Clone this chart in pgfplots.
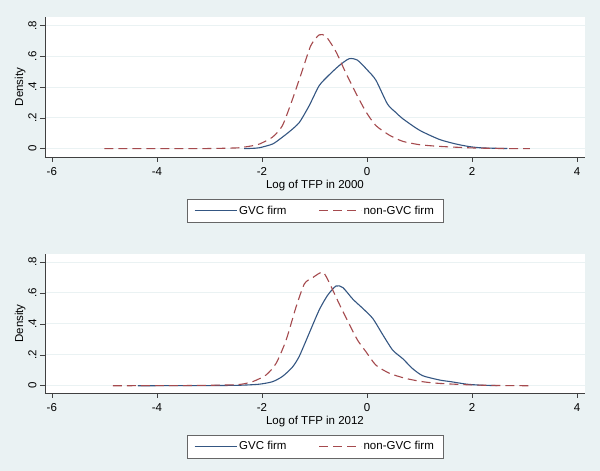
\documentclass[border=0pt]{standalone}
\usepackage{fontspec}
\setmainfont{Liberation Sans}
\usepackage{pgfplots}
\pgfplotsset{compat=1.18}

\definecolor{bgcol}{RGB}{234,242,243}
\definecolor{gvc}{RGB}{52,86,130}
\definecolor{ngvc}{RGB}{165,74,78}

\newcommand{\lblfont}{\fontsize{11.5}{13}\selectfont}

\pgfplotsset{
  tfp/.style={
    scale only axis, width=540pt,
    xmin=-6.13, xmax=4.15,
    axis x line*=bottom, axis y line*=left,
    axis line style={black!75, line width=0.6pt},
    axis background/.style={fill=white},
    tick align=outside, major tick length=5pt,
    major tick style={black!75, line width=0.6pt},
    xtick={-6,-4,-2,0,2,4},
    ytick={0,0.2,0.4,0.6,0.8},
    yticklabels={0,.2,.4,.6,.8},
    yticklabel style={rotate=90, anchor=south},
    xticklabel style={yshift=-2pt},
    ymajorgrids, grid style={bgcol, line width=1pt},
    ylabel={Density},
    ylabel style={at={(axis description cs:-0.046,0.5)}, anchor=center},
    xlabel style={at={(axis description cs:0.5,-0.207)}, anchor=center},
    tick label style={font=\lblfont},
    label style={font=\lblfont},
    /pgf/number format/assume math mode=true,
    legend style={at={(axis description cs:0.5,-0.30)}, anchor=north,
      legend columns=2, draw=black!60, fill=white, font=\lblfont,
      inner xsep=7pt, inner ysep=4.5pt,
      /tikz/every even column/.append style={column sep=30pt}},
    legend image code/.code={\draw[#1] (0pt,0pt) -- (42pt,0pt);},
  },
  gvcline/.style={gvc, line width=1.1pt, smooth, tension=0.4},
  ngvcline/.style={ngvc, line width=1.1pt, dash pattern=on 9pt off 5pt, smooth, tension=0.4},
}

\begin{document}
\begin{tikzpicture}
\fill[bgcol] (0,0) rectangle (600pt,471pt);

% 2000
\begin{axis}[tfp, height=140pt, ymin=-0.054, ymax=0.856,
  at={(45pt,314pt)}, anchor=south west,
  xlabel={Log of TFP in 2000}]
\addplot[gvcline] coordinates {
 (-2.34,0) (-2.2,0.002) (-2.05,0.006) (-1.80,0.03) (-1.65,0.065) (-1.48,0.11)
 (-1.29,0.17) (-1.10,0.28) (-0.91,0.41) (-0.72,0.48) (-0.53,0.54) (-0.34,0.585)
 (-0.18,0.575) (0.01,0.51) (0.17,0.445) (0.39,0.29) (0.55,0.235) (0.68,0.195)
 (1.00,0.12) (1.38,0.06) (1.7,0.03) (1.96,0.013) (2.2,0.005) (2.67,0.001)
};
\addlegendentry{GVC firm}
\addplot[ngvcline] coordinates {
 (-5.0,0) (-4,0) (-3,0.001) (-2.6,0.004) (-2.43,0.006) (-2.2,0.018) (-2.05,0.03)
 (-1.80,0.075) (-1.61,0.15) (-1.42,0.32) (-1.23,0.51) (-1.07,0.67) (-0.91,0.74)
 (-0.78,0.73) (-0.59,0.63) (-0.40,0.49) (-0.21,0.36) (-0.02,0.24) (0.17,0.15)
 (0.43,0.087) (0.68,0.048) (1.00,0.026) (1.38,0.015) (2.0,0.005) (2.6,0.001) (3.1,0)
};
\addlegendentry{non-GVC firm}
\end{axis}

% 2012
\begin{axis}[tfp, height=139pt, ymin=-0.047, ymax=0.852,
  at={(45pt,78pt)}, anchor=south west,
  xlabel={Log of TFP in 2012}]
\addplot[gvcline] coordinates {
 (-4.36,0) (-3,0.001) (-2.43,0.003) (-2.05,0.01) (-1.80,0.026) (-1.61,0.06)
 (-1.42,0.12) (-1.29,0.19) (-1.10,0.34) (-0.91,0.49) (-0.75,0.585) (-0.59,0.645)
 (-0.46,0.635) (-0.27,0.56) (-0.08,0.50) (0.11,0.435) (0.30,0.33) (0.49,0.23)
 (0.68,0.175) (0.87,0.11) (1.06,0.065) (1.38,0.037) (1.6,0.026) (1.9,0.01)
 (2.2,0.003) (2.48,0.001)
};
\addlegendentry{GVC firm}
\addplot[ngvcline] coordinates {
 (-4.84,0) (-3.5,0.001) (-2.8,0.004) (-2.43,0.008) (-2.18,0.026) (-1.92,0.07)
 (-1.73,0.145) (-1.54,0.295) (-1.35,0.51) (-1.19,0.66) (-1.03,0.70) (-0.84,0.735)
 (-0.71,0.66) (-0.53,0.53) (-0.34,0.40) (-0.18,0.295) (-0.02,0.22) (0.17,0.133)
 (0.43,0.08) (0.74,0.047) (1.06,0.026) (1.38,0.015) (2.0,0.005) (2.6,0.001) (3.1,0)
};
\addlegendentry{non-GVC firm}
\end{axis}
\end{tikzpicture}
\end{document}
